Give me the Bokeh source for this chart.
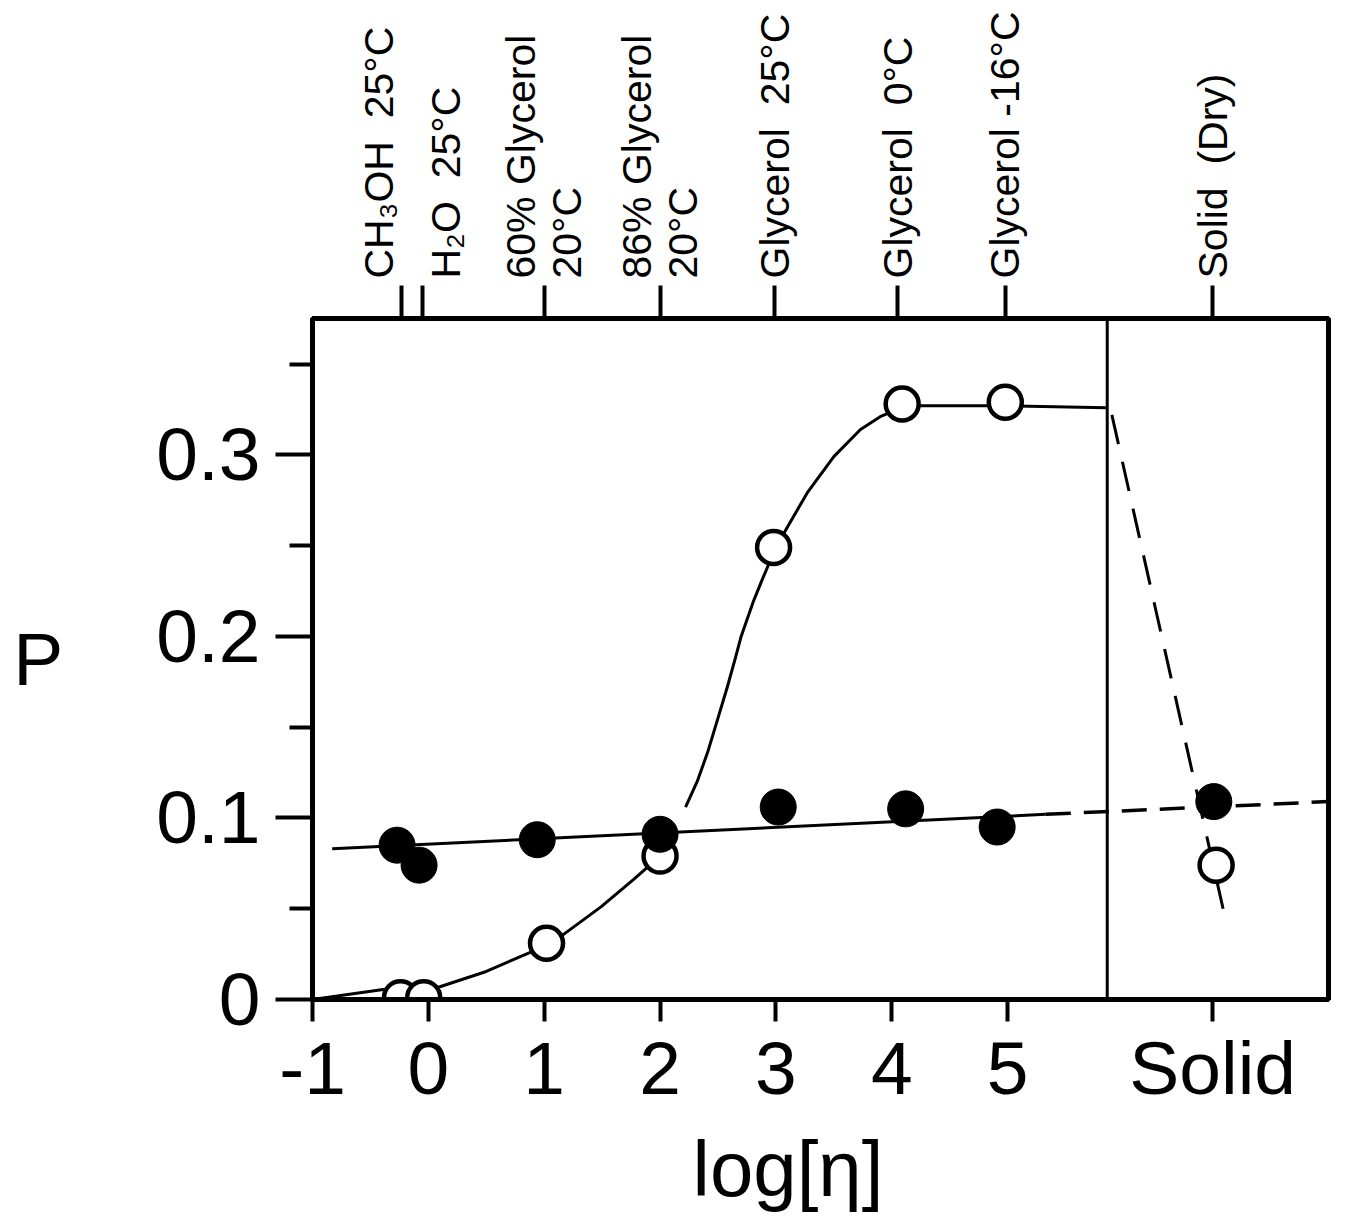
import math
from bokeh.plotting import figure
from bokeh.models import Range1d, FixedTicker, LinearAxis
from bokeh.embed import file_html
from bokeh.resources import INLINE

# ---------------- data ----------------
# open circles
open_x = [-0.24, -0.04, 1.02, 2.00, 2.98, 4.09, 4.98, 6.80]
open_p = [0.001, 0.001, 0.031, 0.079, 0.249, 0.328, 0.329, 0.074]
# filled circles
filled_x = [-0.27, -0.08, 0.94, 2.00, 3.02, 4.12, 4.91, 6.78]
filled_p = [0.085, 0.074, 0.088, 0.091, 0.106, 0.105, 0.095, 0.109]

# hand-drawn curve through the open circles (traced points)
lower_curve_x = [-1.00, -0.39, 0.10, 0.48, 0.88, 1.17, 1.49, 1.77, 2.00, 2.06]
lower_curve_p = [0.000, 0.0055, 0.007, 0.015, 0.026, 0.036, 0.051, 0.066, 0.079, 0.084]
upper_curve_x = [2.22, 2.32, 2.41, 2.50, 2.58, 2.65, 2.70, 2.76, 2.81, 2.88, 2.94,
                 3.07, 3.27, 3.50, 3.73, 3.90, 4.05, 4.22, 4.97, 5.85]
upper_curve_p = [0.106, 0.120, 0.136, 0.155, 0.172, 0.188, 0.200, 0.211, 0.220, 0.231, 0.240,
                 0.257, 0.279, 0.299, 0.314, 0.321, 0.325, 0.327, 0.327, 0.326]

# straight line through the filled circles
fit_solid_x = [-0.83, 5.33]
fit_solid_p = [0.083, 0.102]
fit_dash_x = [5.33, 7.77]
fit_dash_p = [0.102, 0.109]
# dashed drop to the dry solid
drop_x = [5.90, 6.86]
drop_p = [0.322, 0.050]
# divider between solutions and solid
divider_x = [5.86, 5.86]
divider_p = [0.0, 0.3751]

# bottom axis
x_ticks = [-1, 0, 1, 2, 3, 4, 5, 6.77]
x_tick_labels = ["-1", "0", "1", "2", "3", "4", "5", "Solid"]
# left axis
y_ticks = [0, 0.1, 0.2, 0.3]
y_minor_ticks = [0.05, 0.15, 0.25, 0.35]
y_tick_labels = ["0", "0.1", "0.2", "0.3"]
# top axis (solvents)
NB = "\u00a0\u00a0"
top_ticks = [-0.23, -0.05, 1.0, 2.0, 2.99, 4.05, 4.98, 6.77]
top_tick_labels = ["CH\u2083OH" + NB + "25\u00b0C\n\u00a0",
                   "\u00a0\nH\u2082O" + NB + "25\u00b0C",
                   "60% Glycerol\n20\u00b0C", "86% Glycerol\n20\u00b0C",
                   "Glycerol" + NB + "25\u00b0C", "Glycerol" + NB + "0\u00b0C",
                   "Glycerol -16\u00b0C", "Solid" + NB + "(Dry)"]

FONT = "Liberation Sans"

p = figure(width=1355, height=1215,
           x_range=Range1d(-1, 7.77), y_range=Range1d(0, 0.3751),
           output_backend="svg", toolbar_location=None,
           min_border_left=312, min_border_top=318,
           min_border_right=27, min_border_bottom=215)
p.grid.visible = False
p.outline_line_color = "black"
p.outline_line_width = 5
p.background_fill_color = "white"
p.border_fill_color = "white"

# bottom axis
xa = p.xaxis[0]
xa.ticker = FixedTicker(ticks=x_ticks)
xa.major_label_overrides = {t: s for t, s in zip(x_ticks, x_tick_labels)}
xa.major_tick_in = 0
xa.major_tick_out = 22
xa.major_tick_line_width = 4
xa.minor_tick_line_color = None
xa.axis_line_width = 5
xa.major_label_standoff = 4
xa.major_label_text_font = FONT
xa.major_label_text_font_size = "75px"
xa.major_label_text_color = "black"
xa.axis_label = "log[\u03b7]   "
xa.axis_label_text_font = FONT
xa.axis_label_text_font_size = "78px"
xa.axis_label_text_font_style = "normal"
xa.axis_label_standoff = 12
xa.axis_label_text_color = "black"

# left axis
ya = p.yaxis[0]
ya.ticker = FixedTicker(ticks=y_ticks, minor_ticks=y_minor_ticks)
ya.major_label_overrides = {t: s for t, s in zip(y_ticks, y_tick_labels)}
ya.major_tick_in = 0
ya.major_tick_out = 37
ya.minor_tick_in = 0
ya.minor_tick_out = 23
ya.major_tick_line_width = 4
ya.minor_tick_line_width = 4
ya.axis_line_width = 5
ya.major_label_standoff = 15
ya.major_label_text_font = FONT
ya.major_label_text_font_size = "75px"
ya.major_label_text_color = "black"
ya.axis_label = "P"
ya.axis_label_orientation = "horizontal"
ya.axis_label_text_font = FONT
ya.axis_label_text_font_size = "75px"
ya.axis_label_text_font_style = "normal"
ya.axis_label_standoff = 90
ya.axis_label_text_color = "black"

# top axis with solvent names
ta = LinearAxis(ticker=FixedTicker(ticks=top_ticks),
                major_label_overrides={t: s for t, s in zip(top_ticks, top_tick_labels)},
                major_label_orientation="vertical",
                major_tick_in=0, major_tick_out=33, major_tick_line_width=4,
                minor_tick_line_color=None, axis_line_width=5,
                major_label_standoff=7,
                major_label_text_font=FONT, major_label_text_font_size="41px",
                major_label_text_line_height=1.0,
                major_label_text_color="black")
p.add_layout(ta, "above")

# lines
p.line(lower_curve_x, lower_curve_p, line_color="black", line_width=3)
p.line(upper_curve_x, upper_curve_p, line_color="black", line_width=3)
p.line(fit_solid_x, fit_solid_p, line_color="black", line_width=3)
p.line(fit_dash_x, fit_dash_p, line_color="black", line_width=3.5, line_dash="25 13")
p.line(drop_x, drop_p, line_color="black", line_width=3, line_dash="30 18")
p.line(divider_x, divider_p, line_color="black", line_width=3)

# points
p.scatter(open_x, open_p, marker="circle", size=33, fill_color="white",
          line_color="black", line_width=4.5)
p.scatter(filled_x, filled_p, marker="circle", size=36, fill_color="black",
          line_color="black", line_width=1)

open("out.html", "w").write(file_html(p, INLINE))
